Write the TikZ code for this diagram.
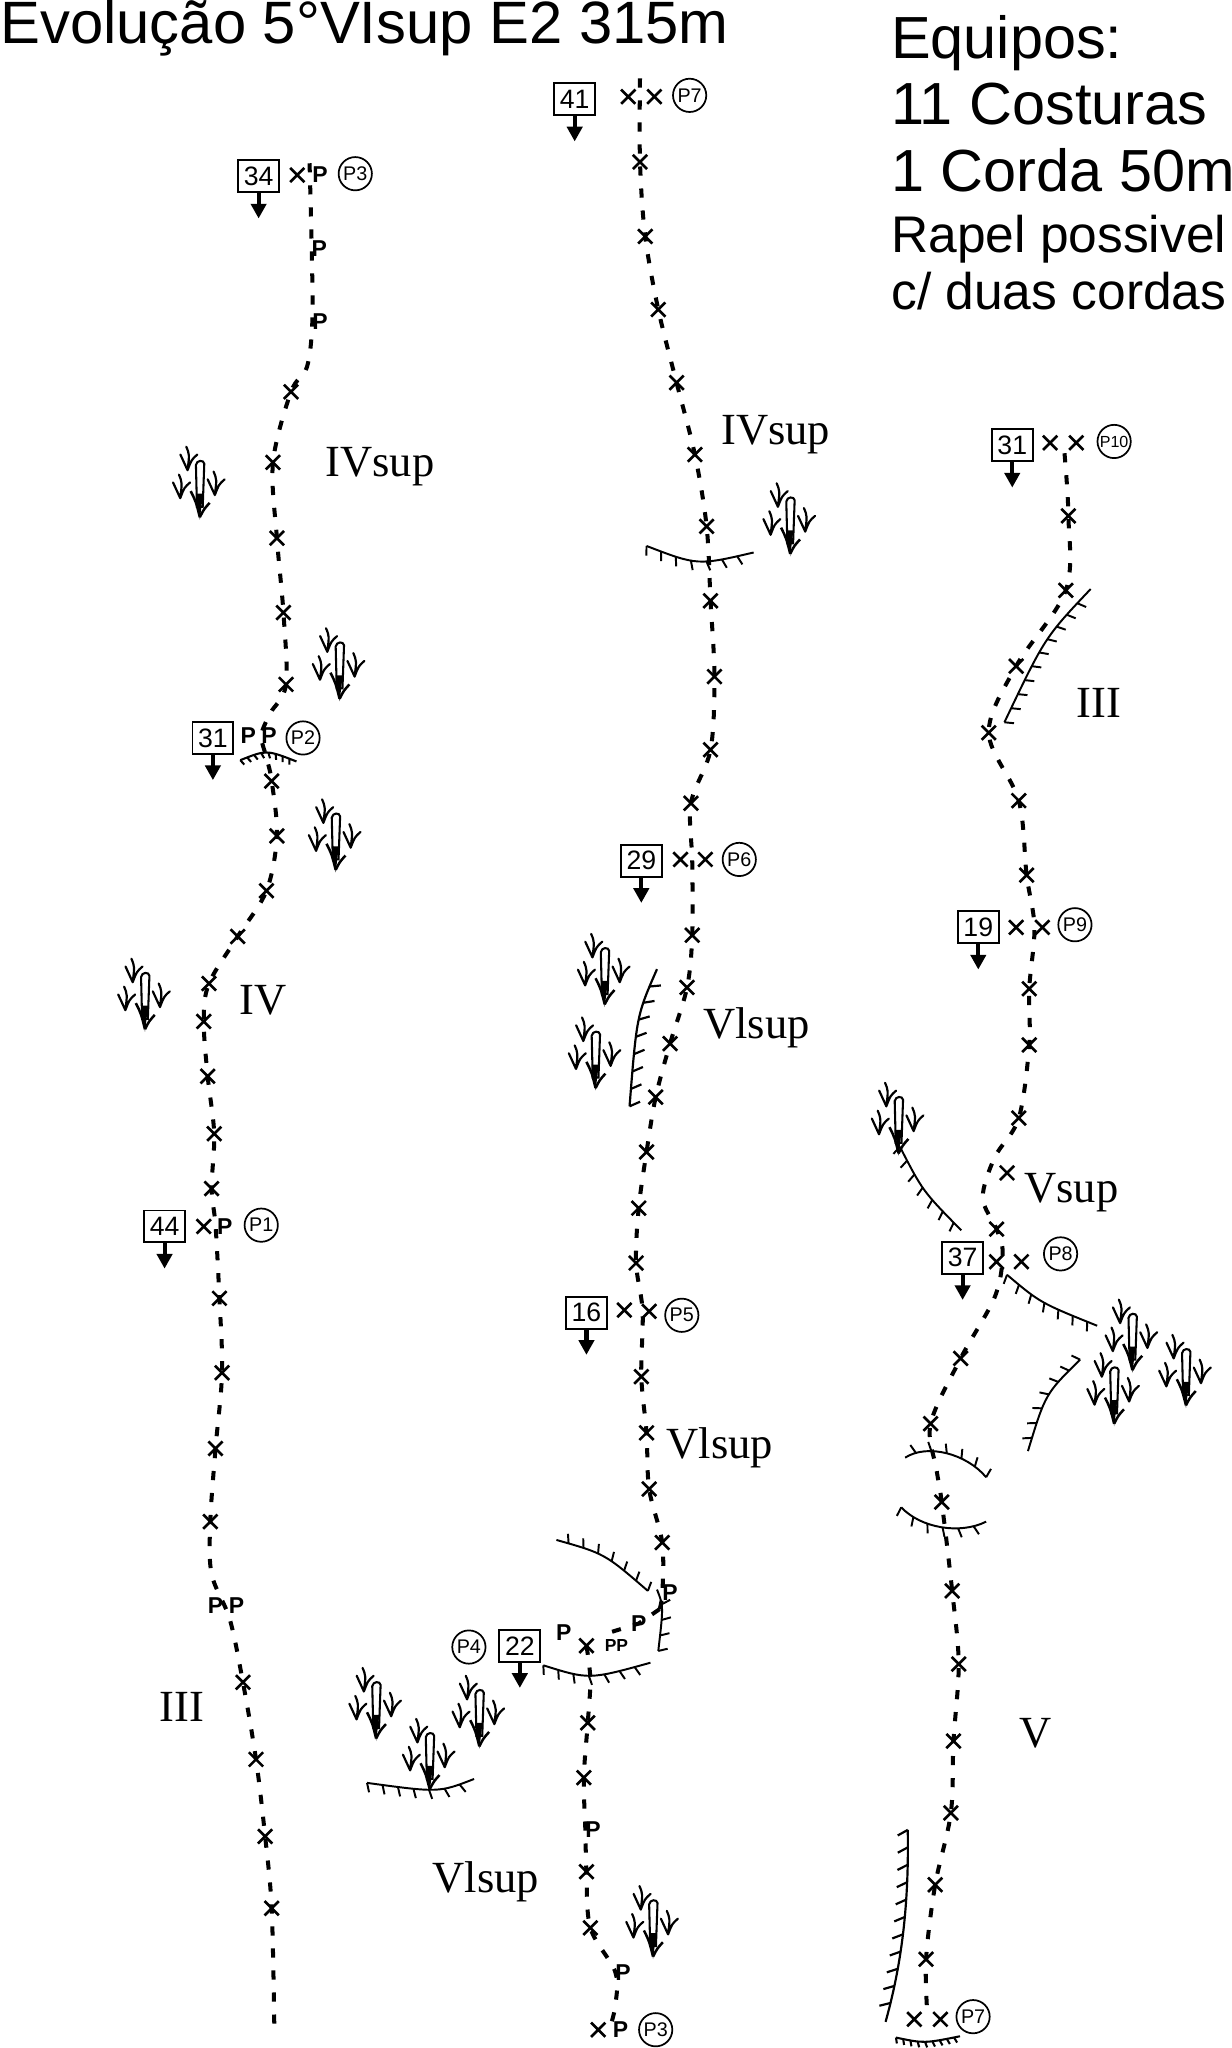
\documentclass[tikz,border=0pt]{standalone}
\usepackage{fontspec}
\setmainfont{Liberation Sans}
\newfontfamily\gradefont{Liberation Serif}
\usetikzlibrary{arrows.meta,shapes.misc,decorations.pathreplacing,backgrounds}
\tikzset{
  routeline/.style={line width=1.75pt,dash pattern=on 4pt off 5.6pt},
  xbolt/.style={cross out,draw,line width=1.15pt,minimum size=6.2pt,inner sep=0pt,outer sep=0pt},
  pbolt/.style={font=\bfseries\fontsize{10}{10}\selectfont,inner sep=0pt,outer sep=0pt},
  ppbolt/.style={font=\bfseries\fontsize{7.6}{8}\selectfont,inner sep=0pt,outer sep=0pt},
  countbox/.style={draw,line width=.85pt,fill=white,minimum width=17.8pt,minimum height=13.9pt,inner sep=0pt,font=\fontsize{11.6}{12}\selectfont},
  beltcircle/.style={circle,draw,line width=.75pt,minimum size=14.5pt,inner sep=0pt,font=\fontsize{8.6}{9}\selectfont},
  descent/.style={line width=1.8pt,-{Triangle[length=6.4pt,width=6.6pt]}},
  grade/.style={anchor=base west,inner sep=0pt,font=\gradefont\fontsize{19.4}{20}\selectfont},
  titletext/.style={anchor=base west,inner sep=0pt,font=\fontsize{26.05}{28}\selectfont},
  bigtext/.style={anchor=base west,inner sep=0pt,font=\fontsize{25.9}{28}\selectfont},
  midtext/.style={anchor=base west,inner sep=0pt,font=\fontsize{22.45}{24}\selectfont},
  overhang/.style={line width=.85pt,draw,postaction={draw,decorate,decoration={border,mirror,segment length=6.8pt,amplitude=4.2pt,angle=70}}},
  longoverhang/.style={line width=.95pt,draw,postaction={draw,decorate,decoration={border,mirror,segment length=7.6pt,amplitude=5pt,angle=62}}},
  tinyoverhang/.style={line width=.9pt,draw,postaction={draw,decorate,decoration={border,mirror,segment length=3.2pt,amplitude=2.6pt,angle=70}}},
  barbline/.style={line width=.95pt,line cap=round},
  pics/tuft/.style={code={
    \foreach \a/\b in {-9.4/-38,-15/-16.6,11.5/-19}{
      \draw[barbline,shift={(\a,\b)}] (-1,-18) .. controls (1.5,-12) .. (0,0) (-5.5,-12) -- (0,0) (7.5,-12) .. controls (3,-8) .. (0,0);
    }
    \draw[line width=.9pt,fill=white] (-2.2,-10) -- (-3,-42) .. controls (-2.4,-46) and (3,-46) .. (3.4,-43) -- (2.2,-10) -- cycle;
    \fill (0,0) -- (-3,-20) -- (2.4,-20) -- cycle;
    \draw[line width=1.1pt] (-7,-22) .. controls (-3,-14) .. (0,-2) (7.5,-13) .. controls (3,-8) .. (0,-2);
  }}
}
\begin{document}
\begin{tikzpicture}[x=.02cm,y=-.02cm]
\useasboundingbox (0,0) rectangle (943,1568);

% headings
\node[titletext] (title) at (0,33.5) {Evolução 5°VIsup E2 315m};
\node[bigtext] (eq1) at (682,44.6) {Equipos:};
\node[bigtext] (eq2) at (682,95.7) {11 Costuras};
\node[bigtext] (eq3) at (682,147) {1 Corda 50m};
\node[midtext] (eq4) at (682,193) {Rapel possivel};
\node[midtext] (eq5) at (682,237) {c/ duas cordas};

% grades
\foreach \n/\x/\y/\t in {
  g1/249/365/IVsup, g2/183/777/IV, g3/122/1318/III,
  g4/552/340/IVsup, g5/538/795/Vlsup, g6/510/1117/Vlsup, g7/331/1449/Vlsup,
  g8/824/549/III, g9/784/921/Vsup, g10/780/1338/V}
  {\node[grade] (\n) at (\x,\y) {\t};}

% overhangs
\path[overhang] (495,418) .. controls (534,433) .. (577,423);
\path[tinyoverhang] (184,582) .. controls (204,574) .. (227,583);
\path[overhang] (769,553) .. controls (800,488) .. (835,451);
\path[longoverhang] (482,847) .. controls (487.5,777.5) .. (503,742);
\path[overhang] (689,878) .. controls (706.5,912) .. (736,942);
\path[overhang] (771,976) .. controls (796.5,997.5) .. (840,1015);
\path[overhang] (827,1041) .. controls (800.4,1067) .. (787,1111);
\path[overhang] (755,1131) .. controls (740,1113) and (710,1105) .. (693,1116);
\path[overhang] (690,1154) .. controls (705,1170) and (735,1175) .. (755,1165);
\path[overhang] (496,1218) .. controls (463,1189.5) .. (426,1179);
\path[overhang] (504,1264) .. controls (508,1229.5) .. (503,1217);
\path[overhang] (416,1275) .. controls (451,1286) .. (498,1273);
\path[overhang] (281,1365) .. controls (336,1372.5) .. (363,1362);
\path[longoverhang] (695,1401) .. controls (696,1460) and (690,1505) .. (678,1548);
\path[tinyoverhang] (686,1560) .. controls (707.5,1564.5) .. (735,1559);

% vegetation
\foreach \x/\y in {153/398,605/426,260/537,257/668,111/790,463/771,456/835,688/885,
  867/1051,853/1092,908/1078,288/1333,367/1339,329/1372,500/1500}
  {\pic at (\x,\y) {tuft};}

% bolts
\foreach \n/\x/\y in {
  a0/227.6/134,a1/222.8/300,a2/209/354,a3/212/412,a4/217/469,a5/219/524,a6/208/598,a7/212/640,a8/204/682,
  a9/182/717,a10/160/753,a11/156/782,a12/159/824,a13/164/868,a14/162/910,aa/156/939,a15/168/994,a16/170/1051,
  a17/165/1109,a18/161/1165,a19/186/1288,a20/196/1347,a21/203/1406,a22/208/1461,
  b0/481/74,b00/501/74,b1/490/124,b2/494/181,b3/504/237,b4/518/293,b5/532/348,b6/541/403,b7/544/460,b8/547/518,
  b9/544/574,b10/529/615,b11/521/658,b12/540/658,b13/530/716,b14/526/756,b15/513/799,b16/502/840,b17/495/882,
  b18/489/925,b19/487/967,b20/478/1003,b21/497/1004,b22/491/1054,b23/495/1097,b24/497/1140,b25/507/1181,
  b26/449/1260,b27/450/1319,b28/447/1361,b29/449/1433,b30/452/1476,b31/458/1554,
  c0/804/339,c00/824/339,c1/818/395,c2/816/452,c3/778/510,c4/757/561,c5/780/613,c6/786/670,c7/778/710,c8/798/710,
  c9/788/757,c10/788/800,c11/780/856,c12/771/898,c13/763/941,c14/763/966,c15/782/966,c16/735.5/1040,c17/712.5/1090,
  c18/721/1150,c19/729/1218,c20/734/1274,c21/730/1333,c22/728/1388,c23/716/1443,c24/709/1500,c25/700/1546,c26/720/1546}
  {\node[xbolt] (\n) at (\x,\y) {};}
\foreach \n/\x/\y in {
  p0/245/134,p1/244.5/190,p2/245/246,p3/190/563,p4/206/563,p5/172/939,p6/165/1229,p7/181/1229,
  p8/513/1219,p9/489/1243,p10/431.6/1250,p11/454/1401,p12/477/1510,p13/475/1554}
  {\node[pbolt] (\n) at (\x,\y) {P};}
\node[ppbolt] (p14) at (472,1260) {PP};

% way-points of the routes
\coordinate (ra0) at (237,125);
\coordinate (ra1) at (235,281);
\coordinate (ra2) at (207,546);
\coordinate (ra3) at (204,580);
\coordinate (ra4) at (165,938);
\coordinate (ra5) at (162,1205);
\coordinate (ra6) at (176,1240);
\coordinate (ra7) at (210,1550);
\coordinate (rb0) at (490,60);
\coordinate (rb1) at (530,660);
\coordinate (rb2) at (492,1004);
\coordinate (rb3) at (505,1232);
\coordinate (rb4) at (461.5,1251.5);
\coordinate (rb5) at (452,1286);
\coordinate (rb6) at (471,1536);
\coordinate (rb7) at (467,1552);
\coordinate (rc0) at (815,347);
\coordinate (rc1) at (792,710);
\coordinate (rc2) at (761.6,886);
\coordinate (rc3) at (752.4,917);
\coordinate (rc4) at (767.7,960);
\coordinate (rc5) at (761.6,993);
\coordinate (rc6) at (717,1125);
\coordinate (rc7) at (710,1542);

% routes, under the bolts
\begin{scope}[on background layer]
\fill[white] (0,0) rectangle (943,1568);
\draw[routeline] plot[smooth,tension=.55] coordinates {(ra0) (p1.west) (p2.west) (ra1) (a1.center) (a2.center) (a3.center) (a4.center) (a5.center) (ra2) (p4.west) (ra3) (a6.center) (a7.center) (a8.center) (a9.center) (a10.center) (a11.center) (a12.center) (a13.center) (a14.center) (ra4) (a15.center) (a16.center) (a17.center) (a18.center) (ra5) (ra6) (a19.center) (a20.center) (a21.center) (a22.center) (ra7)};
\draw[routeline] plot[smooth,tension=.55] coordinates {(rb0) (b1.center) (b2.center) (b3.center) (b4.center) (b5.center) (b6.center) (b7.center) (b8.center) (b9.center) (b10.center) (rb1) (b13.center) (b14.center) (b15.center) (b16.center) (b17.center) (b18.center) (b19.center) (rb2) (b22.center) (b23.center) (b24.center) (b25.center) (p8.west) (rb3)};
\draw[routeline] (rb3) -- (p9.center) -- (rb4);
\draw[routeline] plot[smooth,tension=.55] coordinates {(b26.center) (rb5) (b27.center) (b28.center) (p11.west) (b29.center) (b30.center) (p12.west) (rb6) (rb7)};
\draw[routeline] plot[smooth,tension=.55] coordinates {(rc0) (c1.center) (c2.center) (c3.center) (c4.center) (c5.center) (c6.center) (rc1) (c9.center) (c10.center) (c11.center) (rc2) (rc3) (c13.center) (rc4) (rc5) (c16.center) (c17.center) (rc6) (c18.center) (c19.center) (c20.center) (c21.center) (c22.center) (c23.center) (c24.center) (rc7)};
\end{scope}

% abseil counts
\foreach \n/\x/\y/\t in {
  k1/198/135/34, k2/163/565/31, k3/126/939/44, k4/440/76/41, k5/491/659/29, k6/449/1005/16, k7/398/1260/22,
  k8/775/341/31, k9/749/710/19, k10/737/963/37}
  {\node[countbox] (\n) at (\x,\y) {\t};
   \coordinate (\n t) at ([yshift=-11pt]\n.south);
   \draw[descent] (\n.south) -- (\n t);}

% belays
\foreach \n/\x/\y/\t in {
  s1/272/133/P3, s2/232/565/P2, s3/200/938/P1, s4/528/73/P7, s5/566/658/P6, s6/522/1007/P5, s7/359/1261/P4,
  s8/502/1554/P3, s10/823/708/P9, s11/812/960/P8, s12/745/1544/P7}
  {\node[beltcircle] (\n) at (\x,\y) {\t};}
\node[beltcircle,font=\fontsize{7}{7}\selectfont] (s9) at (853,338) {P10};
\end{tikzpicture}
\end{document}
